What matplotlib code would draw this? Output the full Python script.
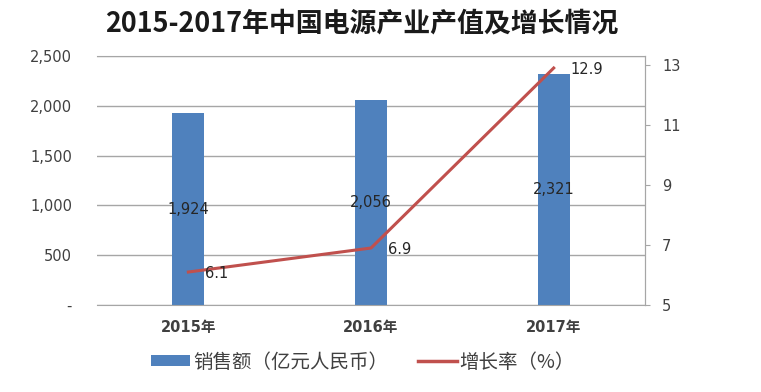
import matplotlib
matplotlib.use("Agg")
import matplotlib.pyplot as plt
from matplotlib.patches import Patch
from matplotlib.lines import Line2D
from matplotlib.ticker import FuncFormatter

plt.rcParams['font.family'] = ['DejaVu Sans', 'Noto Sans CJK SC']
MIX = ['DejaVu Sans', 'Noto Sans CJK SC']

years = ['2015年', '2016年', '2017年']
sales = [1924, 2056, 2321]
growth = [6.1, 6.9, 12.9]
title = '2015-2017年中国电源产业产值及增长情况'
bar_label = '销售额（亿元人民币）'
line_label = '增长率（%）'

bar_color = '#4F81BD'
line_color = '#C0504D'
grid_color = '#A6A6A6'
text_color = '#404040'

fig = plt.figure(figsize=(7.61, 3.92), dpi=100)
ax = fig.add_axes([0.1275, 0.2219, 0.7201, 0.6352])
x = list(range(len(years)))

ax.bar(x, sales, width=0.175, color=bar_color, zorder=2)
ax.set_xlim(-0.5, 2.5)
ax.set_ylim(0, 2500)
ax.set_yticks([0, 500, 1000, 1500, 2000, 2500])
ax.yaxis.set_major_formatter(FuncFormatter(lambda v, p: '-' if v == 0 else f'{int(v):,}'))
ax.grid(axis='y', color=grid_color, linewidth=1, zorder=0)
ax.set_axisbelow(True)
ax.tick_params(axis='y', length=0, pad=18, labelsize=10.5, labelcolor=text_color)
ax.set_xticks(x)
ax.set_xticklabels(years, fontsize=10.5, fontweight='bold', color=text_color)
ax.tick_params(axis='x', length=0, pad=11)
ax.spines['left'].set_visible(False)
for s in ['top', 'right', 'bottom']:
    ax.spines[s].set_color(grid_color)

for xi, v in zip(x, sales):
    ax.text(xi, v / 2, f'{v:,}', ha='center', va='center', fontsize=10.5, color='#262626',
            zorder=4, family=MIX)

ax2 = ax.twinx()
ax2.plot(x, growth, color=line_color, linewidth=2.2, zorder=3)
ax2.set_ylim(5, 13.3)
ax2.set_yticks([5, 7, 9, 11, 13])
ax2.tick_params(axis='y', length=3.6, color=grid_color, pad=8.6, labelsize=10.5, labelcolor=text_color)
for s in ['left', 'top', 'bottom']:
    ax2.spines[s].set_visible(False)
ax2.spines['right'].set_color(grid_color)
for xi, v in zip(x, growth):
    ax2.text(xi + 0.093, v - 0.06, f'{v}', ha='left', va='center', fontsize=10.5, color='#262626',
             zorder=4, family=MIX)

for lbl in ax.get_yticklabels() + ax.get_xticklabels() + ax2.get_yticklabels():
    lbl.set_family(MIX)

fig.text(0.475, 0.94, title, ha='center', va='center', fontsize=19.4, fontweight='bold',
         color='#1a1a1a', family=['Noto Sans CJK SC'])

handles = [Patch(facecolor=bar_color, edgecolor='none'),
           Line2D([0], [0], color=line_color, linewidth=2.5)]
fig.legend(handles, [bar_label, line_label], loc='center', bbox_to_anchor=(0.477, 0.0765),
           ncol=2, frameon=False, handlelength=2.0, handleheight=0.47,
           handletextpad=0.15, columnspacing=1.55, labelcolor=text_color,
           prop={'family': ['Noto Sans CJK SC'], 'size': 14})

fig.savefig('out.png', dpi=100)
